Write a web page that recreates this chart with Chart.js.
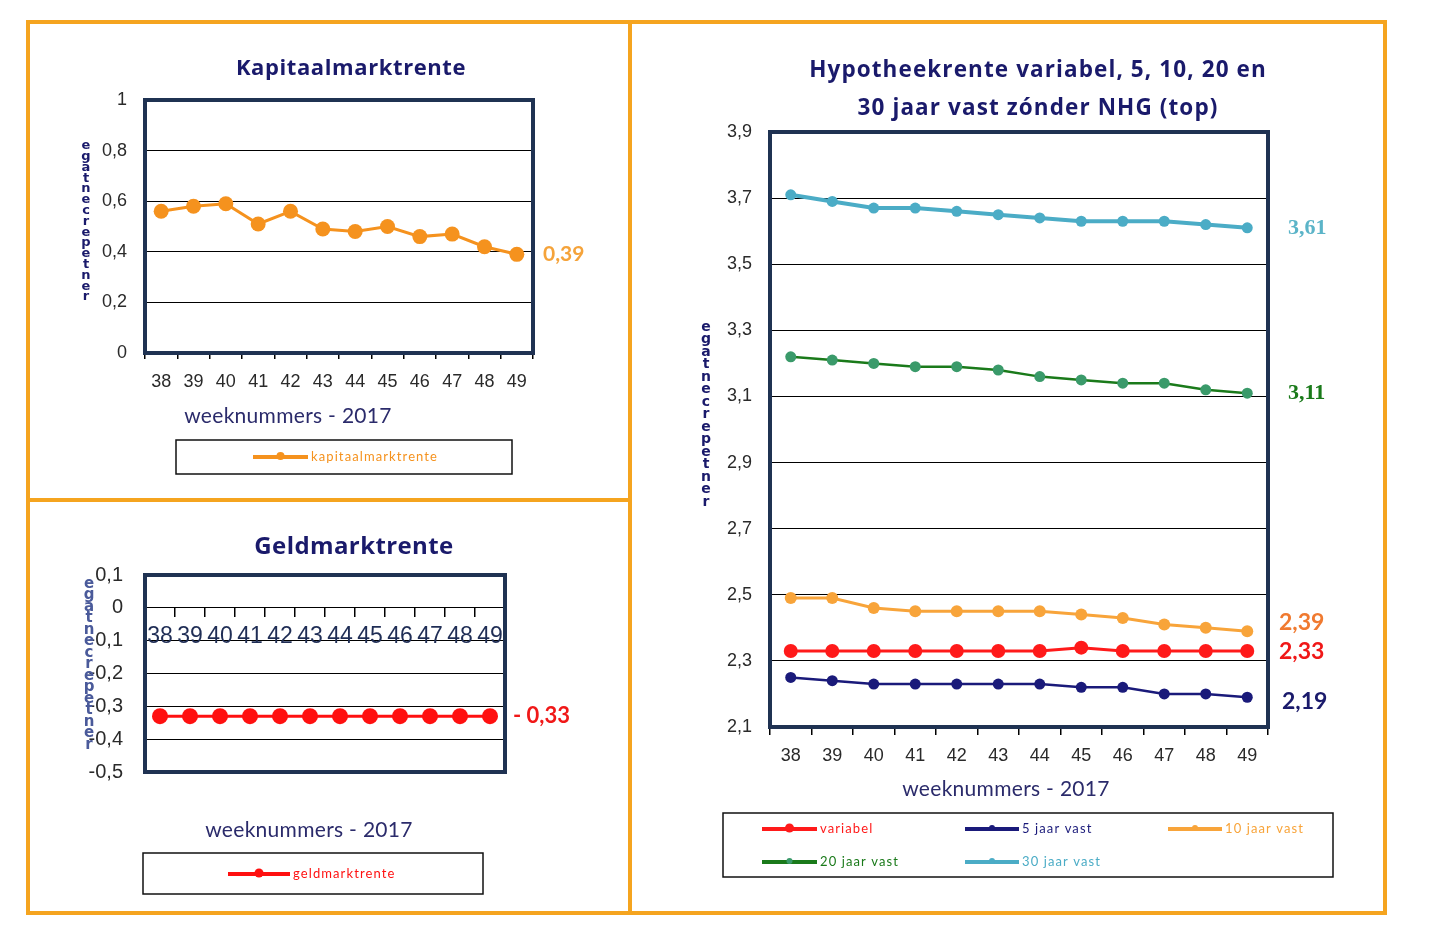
<!DOCTYPE html>
<html>
<head>
<meta charset="utf-8">
<script src="https://cdn.jsdelivr.net/npm/chart.js@4.4.1/dist/chart.umd.min.js"></script>
<style>
  body { margin: 0; background: #fff; width: 1440px; height: 944px; overflow: hidden; }
  .frame { position: absolute; background: #f5a41f; }
  canvas { position: absolute; left: 0; top: 0; }
</style>
</head>
<body>
<div class="frame" style="left:26px;top:20px;width:1361px;height:4px"></div>
<div class="frame" style="left:26px;top:911px;width:1361px;height:4px"></div>
<div class="frame" style="left:26px;top:20px;width:4px;height:895px"></div>
<div class="frame" style="left:1383px;top:20px;width:4px;height:895px"></div>
<div class="frame" style="left:628px;top:20px;width:4px;height:895px"></div>
<div class="frame" style="left:26px;top:498px;width:604px;height:4px"></div>

<canvas id="kapitaal" width="1440" height="944"></canvas>
<canvas id="geld" width="1440" height="944"></canvas>
<canvas id="hypo" width="1440" height="944"></canvas>

<script>
const weeks = ['38', '39', '40', '41', '42', '43', '44', '45', '46', '47', '48', '49'];

const kapitaalmarkt = [0.56, 0.58, 0.59, 0.51, 0.56, 0.49, 0.48, 0.50, 0.46, 0.47, 0.42, 0.39];
const geldmarkt = [-0.33, -0.33, -0.33, -0.33, -0.33, -0.33, -0.33, -0.33, -0.33, -0.33, -0.33, -0.33];

const variabel = [2.33, 2.33, 2.33, 2.33, 2.33, 2.33, 2.33, 2.34, 2.33, 2.33, 2.33, 2.33];
const vast5 = [2.25, 2.24, 2.23, 2.23, 2.23, 2.23, 2.23, 2.22, 2.22, 2.20, 2.20, 2.19];
const vast10 = [2.49, 2.49, 2.46, 2.45, 2.45, 2.45, 2.45, 2.44, 2.43, 2.41, 2.40, 2.39];
const vast20 = [3.22, 3.21, 3.20, 3.19, 3.19, 3.18, 3.16, 3.15, 3.14, 3.14, 3.12, 3.11];
const vast30 = [3.71, 3.69, 3.67, 3.67, 3.66, 3.65, 3.64, 3.63, 3.63, 3.63, 3.62, 3.61];

const NAVY = '#1a1a6b';
const FRAME = '#1f3252';
const TICKFONT = { family: 'Liberation Sans, Arial, sans-serif', size: 18 };

function fmt(v) {
  if (Math.abs(v) < 1e-9) return '0';
  if (Math.abs(v - Math.round(v)) < 1e-9) return String(Math.round(v));
  return v.toFixed(1).replace('.', ',');
}

// plot area in page pixels -> layout padding
function area(l, t, r, b, yW, xH) {
  return { left: l - yW, top: t, right: 1440 - r, bottom: 944 - b - xH };
}

// everything that is not a mark: frame, titles, end labels, legend box
function extras(opts) {
  return {
    id: 'extras',
    beforeDatasetsDraw(chart) {
      const { ctx, chartArea: a } = chart;
      ctx.save();
      ctx.strokeStyle = FRAME;
      ctx.lineWidth = 4;
      ctx.strokeRect(a.left, a.top, a.right - a.left, a.bottom - a.top);
      ctx.restore();
    },
    afterDraw(chart) {
      const { ctx, chartArea: a } = chart;
      const y = chart.scales.y;
      ctx.save();
      ctx.textBaseline = 'middle';

      // titles
      ctx.fillStyle = NAVY;
      ctx.textAlign = 'center';
      ctx.font = 'bold ' + opts.titleSize + 'px "Open Sans", Lato, sans-serif';
      ctx.letterSpacing = opts.titleSpacing + 'px';
      opts.title.forEach((line, i) => ctx.fillText(line, opts.titleX, opts.titleY + i * 38));

      // x axis title
      ctx.fillStyle = '#2b2b6b';
      ctx.font = '21px Lato, "Open Sans", sans-serif';
      ctx.letterSpacing = '0.3px';
      ctx.fillText('weeknummers - 2017', opts.xTitleX, opts.xTitleY);
      ctx.letterSpacing = '0px';

      // y axis title, stacked letters
      const g = opts.ytitle;
      ctx.fillStyle = g.color;
      ctx.font = 'bold ' + g.size + 'px "DejaVu Sans", sans-serif';
      const word = 'rentepercentage';
      for (let i = 0; i < word.length; i++) {
        ctx.fillText(word[i], g.x, g.bottom - i * g.step);
      }

      // end values next to the last point
      ctx.textAlign = 'left';
      opts.ends.forEach(e => {
        const ds = chart.data.datasets[e.ds];
        const last = ds.data[ds.data.length - 1];
        ctx.fillStyle = e.color;
        ctx.font = e.font;
        ctx.fillText(e.text, a.right + e.dx, y.getPixelForValue(last) + e.dy);
      });

      // legend
      const L = opts.legend;
      ctx.strokeStyle = '#111';
      ctx.lineWidth = 1.5;
      ctx.strokeRect(L.box[0], L.box[1], L.box[2] - L.box[0], L.box[3] - L.box[1]);
      L.items.forEach(it => {
        const ds = chart.data.datasets[it.ds];
        ctx.strokeStyle = ds.borderColor;
        ctx.lineWidth = 4;
        ctx.beginPath();
        ctx.moveTo(it.x, it.y);
        ctx.lineTo(it.x + it.w, it.y);
        ctx.stroke();
        ctx.fillStyle = ds.pointBackgroundColor;
        ctx.beginPath();
        ctx.arc(it.x + it.w / 2, it.y - 1, it.m, 0, Math.PI * 2);
        ctx.fill();
        ctx.fillStyle = ds.borderColor;
        ctx.font = '13px Lato, "Open Sans", sans-serif';
        ctx.letterSpacing = '1.1px';
        ctx.fillText(ds.label, it.x + it.w + 3, it.y);
        ctx.letterSpacing = '0px';
      });
      ctx.restore();
    }
  };
}

function lineSet(label, data, color, pointColor, width, radius) {
  return {
    label, data,
    borderColor: color,
    backgroundColor: pointColor,
    pointBackgroundColor: pointColor,
    pointBorderWidth: 0,
    borderWidth: width,
    pointRadius: radius,
    tension: 0
  };
}

function yScale(min, max, step, pad, font) {
  return {
    min, max,
    afterFit: s => { s.width = 60; },
    ticks: { stepSize: step, padding: pad, color: '#2a2a2a', font: font || TICKFONT, callback: v => fmt(v) },
    grid: { color: '#000', lineWidth: 1, drawTicks: false },
    border: { display: false }
  };
}

function xScale(tickLen, pad, color, font) {
  return {
    offset: true,
    afterFit: s => { s.height = 40; },
    ticks: { padding: pad, color, font, autoSkip: false, maxRotation: 0 },
    grid: { offset: true, drawOnChartArea: false, drawTicks: true, tickLength: tickLen, color: '#000', lineWidth: 1.5 },
    border: { display: false }
  };
}

const common = {
  responsive: false,
  animation: false,
  events: [],
  plugins: { legend: { display: false }, tooltip: { enabled: false } }
};

// Kapitaalmarktrente
new Chart(document.getElementById('kapitaal'), {
  type: 'line',
  data: {
    labels: weeks,
    datasets: [lineSet('kapitaalmarktrente', kapitaalmarkt, '#f5921e', '#f5921e', 3, 7.5)]
  },
  options: {
    ...common,
    layout: { padding: area(145, 100, 533, 353, 60, 40) },
    scales: {
      x: xScale(6, 12, '#2a2a2a', TICKFONT),
      y: yScale(0, 1, 0.2, 18)
    }
  },
  plugins: [extras({
    title: ['Kapitaalmarktrente'], titleSize: 22, titleSpacing: 0.6, titleX: 351, titleY: 69,
    xTitleX: 288, xTitleY: 416,
    ytitle: { x: 86, bottom: 297, step: 10.8, size: 13, color: NAVY },
    ends: [{ ds: 0, text: '0,39', color: '#f5a33a', font: 'bold 21px Lato, sans-serif', dx: 10, dy: 0 }],
    legend: { box: [176, 440, 512, 474], items: [{ ds: 0, x: 253, y: 457, w: 55, m: 4 }] }
  })]
});

// Geldmarktrente
new Chart(document.getElementById('geld'), {
  type: 'line',
  data: {
    labels: weeks,
    datasets: [lineSet('geldmarktrente', geldmarkt, '#ff1010', '#ff1010', 3, 8)]
  },
  options: {
    ...common,
    layout: { padding: area(145, 575, 505, 772, 60, 0) },
    scales: {
      x: {
        ...xScale(9, 6, '#1f2d55', { family: 'Liberation Sans, Arial, sans-serif', size: 23 }),
        position: { y: 0 },
        border: { display: true, color: '#000', width: 1 }
      },
      y: yScale(-0.5, 0.1, 0.1, 22, { family: 'Liberation Sans, Arial, sans-serif', size: 20 })
    }
  },
  plugins: [extras({
    title: ['Geldmarktrente'], titleSize: 24, titleSpacing: 0.4, titleX: 354, titleY: 547,
    xTitleX: 309, xTitleY: 830,
    ytitle: { x: 89, bottom: 745, step: 11.5, size: 15, color: '#4a5a9a' },
    ends: [{ ds: 0, text: '- 0,33', color: '#f01818', font: 'bold 22px Lato, sans-serif', dx: 8, dy: 0 }],
    legend: { box: [143, 853, 483, 894], items: [{ ds: 0, x: 228, y: 874, w: 62, m: 4.5 }] }
  })]
});

// Hypotheekrente
new Chart(document.getElementById('hypo'), {
  type: 'line',
  data: {
    labels: weeks,
    datasets: [
      lineSet('variabel', variabel, '#ff1a1a', '#ff1a1a', 3, 7),
      lineSet('5 jaar vast', vast5, '#1a1a7a', '#1a1a7a', 2.5, 5.5),
      lineSet('10 jaar vast', vast10, '#f8a43a', '#f8a43a', 3, 6),
      lineSet('20 jaar vast', vast20, '#1a7a1a', '#3a9a6a', 2.5, 5.5),
      lineSet('30 jaar vast', vast30, '#4bacc6', '#4bacc6', 4, 5.5)
    ]
  },
  options: {
    ...common,
    layout: { padding: area(770, 132, 1268, 727, 60, 40) },
    scales: {
      x: xScale(8, 10, '#2a2a2a', TICKFONT),
      y: yScale(2.1, 3.9, 0.2, 18)
    }
  },
  plugins: [extras({
    title: ['Hypotheekrente variabel, 5, 10, 20 en', '30 jaar vast zónder NHG (top)'],
    titleSize: 22.5, titleSpacing: 1.1, titleX: 1038, titleY: 71,
    xTitleX: 1006, xTitleY: 789,
    ytitle: { x: 706, bottom: 502, step: 12.5, size: 14, color: NAVY },
    ends: [
      { ds: 4, text: '3,61', color: '#5bb4c8', font: 'bold 22px "Liberation Serif", serif', dx: 20, dy: 0 },
      { ds: 3, text: '3,11', color: '#1a7a1a', font: 'bold 22px "Liberation Serif", serif', dx: 20, dy: 0 },
      { ds: 2, text: '2,39', color: '#f07a30', font: 'bold 23px Lato, sans-serif', dx: 11, dy: -9 },
      { ds: 0, text: '2,33', color: '#f01818', font: 'bold 23px Lato, sans-serif', dx: 11, dy: 1 },
      { ds: 1, text: '2,19', color: '#1a1a6b', font: 'bold 23px Lato, sans-serif', dx: 14, dy: 4 }
    ],
    legend: {
      box: [723, 813, 1333, 877],
      items: [
        { ds: 0, x: 762, y: 829, w: 55, m: 4.5 },
        { ds: 1, x: 965, y: 829, w: 54, m: 3 },
        { ds: 2, x: 1168, y: 829, w: 54, m: 3 },
        { ds: 3, x: 762, y: 862, w: 55, m: 3 },
        { ds: 4, x: 965, y: 862, w: 54, m: 3 }
      ]
    }
  })]
});
</script>
</body>
</html>
